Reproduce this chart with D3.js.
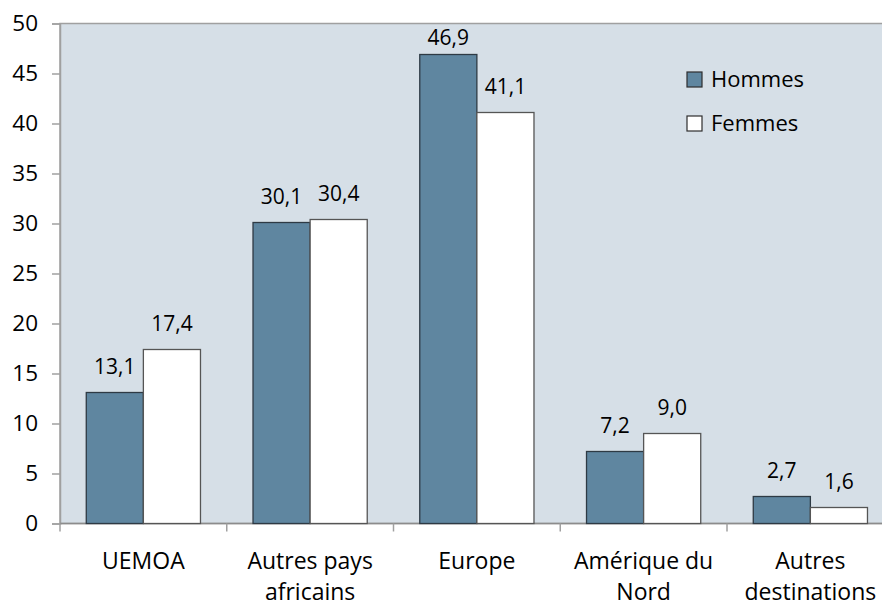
<!DOCTYPE html>
<html>
<head>
<meta charset="utf-8">
<script src="https://cdn.jsdelivr.net/npm/d3@7"></script>
<style>
  html, body { margin: 0; padding: 0; background: #ffffff; }
  svg { display: block; font-family: "Open Sans", sans-serif; }
</style>
</head>
<body>
<svg id="chart" width="882" height="607"></svg>
<script>
const categories = ["UEMOA", "Autres pays africains", "Europe", "Amérique du Nord", "Autres destinations"];
const categoryLines = [["UEMOA"], ["Autres pays", "africains"], ["Europe"], ["Amérique du", "Nord"], ["Autres", "destinations"]];
const seriesNames = ["Hommes", "Femmes"];
const hommes = [13.1, 30.1, 46.9, 7.2, 2.7];
const femmes = [17.4, 30.4, 41.1, 9.0, 1.6];
const yTicks = [0, 5, 10, 15, 20, 25, 30, 35, 40, 45, 50];

const svg = d3.select("#chart");
const margin = { left: 60, top: 23.5 };
const plotBottom = 523.5;
const bandStep = 166.75;
const plotRight = margin.left + bandStep * categories.length;

const colors = { Hommes: "#5f86a0", Femmes: "#ffffff" };
const bg = "#d6dfe7";
const axisColor = "#a0a0a0";

const x = d3.scaleBand().domain(categories).range([margin.left, plotRight]).paddingInner(0).paddingOuter(0);
const x1 = d3.scaleBand().domain(seriesNames).range([0, x.bandwidth()]).paddingInner(0).paddingOuter(0.46);
const y = d3.scaleLinear().domain([0, 50]).range([plotBottom, margin.top]);

// plot background
svg.append("rect")
  .attr("x", margin.left).attr("y", margin.top)
  .attr("width", plotRight - margin.left).attr("height", plotBottom - margin.top)
  .attr("fill", bg).attr("stroke", axisColor).attr("stroke-width", 1.5);

// y axis
const yAxis = d3.axisLeft(y).tickValues(yTicks).tickSize(8).tickPadding(14).tickFormat(d3.format("d"));
const gy = svg.append("g").attr("transform", `translate(${margin.left},0)`).call(yAxis);
gy.select(".domain").attr("stroke", axisColor).attr("stroke-width", 1.5);
gy.selectAll(".tick line").attr("stroke", axisColor).attr("stroke-width", 1.5);
gy.selectAll(".tick text").attr("fill", "#000").style("font-size", "22.5px").style("font-family", "'Open Sans', sans-serif");

// x axis baseline + ticks at category boundaries
svg.append("line")
  .attr("x1", margin.left).attr("x2", plotRight)
  .attr("y1", plotBottom).attr("y2", plotBottom)
  .attr("stroke", "#8c8c8c").attr("stroke-width", 1.5);
const boundaries = categories.map(c => x(c)).concat([plotRight]);
svg.append("g").selectAll("line").data(boundaries).join("line")
  .attr("x1", d => d).attr("x2", d => d)
  .attr("y1", plotBottom).attr("y2", plotBottom + 8)
  .attr("stroke", axisColor).attr("stroke-width", 1.5);

// bars
const data = categories.map((c, i) => ({ cat: c, values: [
  { key: "Hommes", value: hommes[i] },
  { key: "Femmes", value: femmes[i] }
]}));

const groups = svg.append("g").selectAll("g").data(data).join("g")
  .attr("transform", d => `translate(${x(d.cat)},0)`);

groups.selectAll("rect").data(d => d.values).join("rect")
  .attr("x", d => x1(d.key))
  .attr("y", d => y(d.value))
  .attr("width", x1.bandwidth())
  .attr("height", d => plotBottom - y(d.value))
  .attr("fill", d => colors[d.key])
  .attr("stroke", d => d.key === "Hommes" ? "#2e3a44" : "#555555")
  .attr("stroke-width", 1.3);

const fmt = v => d3.format(".1f")(v).replace(".", ",");
groups.selectAll("text.val").data(d => d.values).join("text")
  .attr("class", "val")
  .attr("x", d => x1(d.key) + x1.bandwidth() / 2)
  .attr("y", d => Math.max(y(d.value) - 19, margin.top + 21.5))
  .attr("text-anchor", "middle")
  .style("font-size", "21px")
  .attr("fill", "#000")
  .text(d => fmt(d.value));

// category labels
const labels = svg.append("g").selectAll("text").data(categories).join("text")
  .attr("x", d => x(d) + x.bandwidth() / 2)
  .attr("y", 569)
  .attr("text-anchor", "middle")
  .style("font-size", "23px")
  .attr("fill", "#000");
labels.each(function(d, i) {
  const t = d3.select(this);
  categoryLines[i].forEach((line, j) => {
    t.append("tspan").attr("x", x(d) + x.bandwidth() / 2).attr("dy", j === 0 ? 0 : 31).text(line);
  });
});

// legend
const legend = svg.append("g").attr("transform", "translate(687,72)");
seriesNames.forEach((s, i) => {
  const g = legend.append("g").attr("transform", `translate(0,${i * 44})`);
  g.append("rect").attr("x", 0).attr("y", 0).attr("width", 15).attr("height", 15)
    .attr("fill", colors[s]).attr("stroke", "#2e2e2e").attr("stroke-width", 1.2);
  g.append("text").attr("x", 24).attr("y", 15)
    .style("font-size", "22px").attr("fill", "#000").text(s);
});
</script>
</body>
</html>
